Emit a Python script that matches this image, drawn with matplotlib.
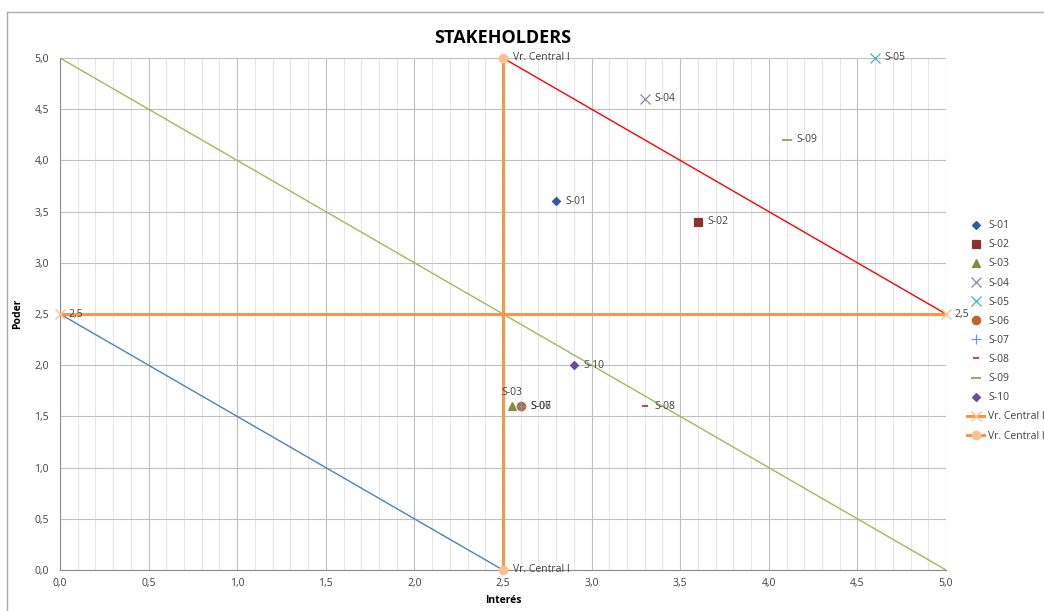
import matplotlib
matplotlib.use("Agg")
import matplotlib.pyplot as plt
from matplotlib.lines import Line2D
import numpy as np

plt.rcParams['font.family'] = ['Open Sans', 'DejaVu Sans']

# Stakeholders
names = ["S-01", "S-02", "S-03", "S-04", "S-05", "S-06", "S-07", "S-08", "S-09", "S-10"]
interes = [2.8, 3.6, 2.55, 3.3, 4.6, 2.6, 2.6, 3.3, 4.1, 2.9]
poder = [3.6, 3.4, 1.6, 4.6, 5.0, 1.6, 1.6, 1.6, 4.2, 2.0]
markers = ["D", "s", "^", "x", "x", "o", "+", "_", "_", "D"]
msizes = [4, 6, 6, 6.5, 6.5, 6, 7, 5, 7, 4]
colors = ["#2F5C97", "#8B3130", "#76923C", "#8E82B0", "#4BACC6", "#C0642B",
          "#6D9AD6", "#C0504D", "#8CB35D", "#6B4C9A"]

# Central reference lines
hline_x = [0.0, 5.0]
hline_y = [2.5, 2.5]
hline_labels = ["2,5", "2,5"]
vline_x = [2.5, 2.5]
vline_y = [0.0, 5.0]
vline_labels = ["Vr. Central I", "Vr. Central I"]

# Diagonal lines
red_x, red_y = [2.5, 5.0], [5.0, 2.5]
green_x, green_y = [0.0, 5.0], [5.0, 0.0]
blue_x, blue_y = [0.0, 2.5], [2.5, 0.0]

fig = plt.figure(figsize=(10.44, 6.11), dpi=100)
ax = fig.add_axes([60/1044, 1-570/611, (946-60)/1044, (570-58)/611])

# outer frame lines (top and left)
fig.add_artist(Line2D([7/1044, 1.0], [1-12/611, 1-12/611], color="#ABABAB", lw=1.0, transform=fig.transFigure))
fig.add_artist(Line2D([7/1044, 7/1044], [0.0, 1-12/611], color="#ABABAB", lw=1.0, transform=fig.transFigure))

ax.set_xlim(0, 5)
ax.set_ylim(0, 5)
ax.set_xticks(np.arange(0, 5.01, 0.5))
ax.set_yticks(np.arange(0, 5.01, 0.5))
ax.set_xticks(np.arange(0, 5.01, 0.1), minor=True)
ax.grid(which="minor", axis="x", color="#E6E6E6", lw=0.8)
ax.grid(which="major", axis="both", color="#BFBFBF", lw=0.8)
ax.set_axisbelow(True)
fmt = lambda v: f"{v:.1f}".replace(".", ",")
ax.set_xticklabels([fmt(v) for v in np.arange(0, 5.01, 0.5)])
ax.set_yticklabels([fmt(v) for v in np.arange(0, 5.01, 0.5)])
ax.tick_params(which="both", length=0, labelsize=7.5, colors="#404040", pad=6)
ax.tick_params(axis="y", pad=8)
for s in ["top", "right"]:
    ax.spines[s].set_visible(False)
for s in ["left", "bottom"]:
    ax.spines[s].set_color("#8C8C8C")
    ax.spines[s].set_linewidth(0.8)

ax.set_xlabel("Interés", fontsize=7.5, fontweight="bold", labelpad=4)
ax.set_ylabel("Poder", fontsize=7.5, fontweight="bold", labelpad=8)
ax.set_title("STAKEHOLDERS", fontsize=13, fontweight="bold", pad=11)

ax.plot(red_x, red_y, color="#FF0000", lw=1.0, zorder=2)
ax.plot(green_x, green_y, color="#9BBB59", lw=1.0, zorder=2)
ax.plot(blue_x, blue_y, color="#4F81BD", lw=1.0, zorder=2)

h1, = ax.plot(hline_x, hline_y, color="#F79646", lw=2.2, marker="x", ms=7,
              mec="#FAC090", clip_on=False, zorder=3, label="Vr. Central I")
h2, = ax.plot(vline_x, vline_y, color="#F79646", lw=2.2, marker="o", ms=6,
              mfc="#FAC090", mec="#FAC090", clip_on=False, zorder=3, label="Vr. Central I")
for x, y, t in zip(hline_x, hline_y, hline_labels):
    ax.annotate(t, (x, y), xytext=(6, 0), textcoords="offset points", fontsize=7.5,
                color="#404040", va="center", annotation_clip=False)
for x, y, t in zip(vline_x, vline_y, vline_labels):
    ax.annotate(t, (x, y), xytext=(7, 0), textcoords="offset points", fontsize=7.5,
                color="#404040", va="center", annotation_clip=False)

handles = []
for n, x, y, m, s, c in zip(names, interes, poder, markers, msizes, colors):
    mew = 1.5 if m == "_" else 0.9
    h, = ax.plot([x], [y], linestyle="none", marker=m, ms=s, color=c, mew=mew,
                 clip_on=False, zorder=4, label=n)
    handles.append(h)
    if n == "S-03":
        ax.annotate(n, (x, y), xytext=(0, 6), textcoords="offset points", fontsize=7.5,
                    color="#404040", ha="center", va="bottom")
    else:
        ax.annotate(n, (x, y), xytext=(7, 0), textcoords="offset points", fontsize=7.5,
                    color="#404040", va="center", annotation_clip=False)

leg = fig.legend(handles + [h1, h2], names + ["Vr. Central I", "Vr. Central I"],
                 loc="upper left", bbox_to_anchor=(962/1044, 1-215/611),
                 frameon=False, fontsize=7.5, labelspacing=0.78, handlelength=1.6,
                 handletextpad=0.4, borderpad=0)
for t in leg.get_texts():
    t.set_color("#404040")

fig.savefig("out.png", dpi=100)
